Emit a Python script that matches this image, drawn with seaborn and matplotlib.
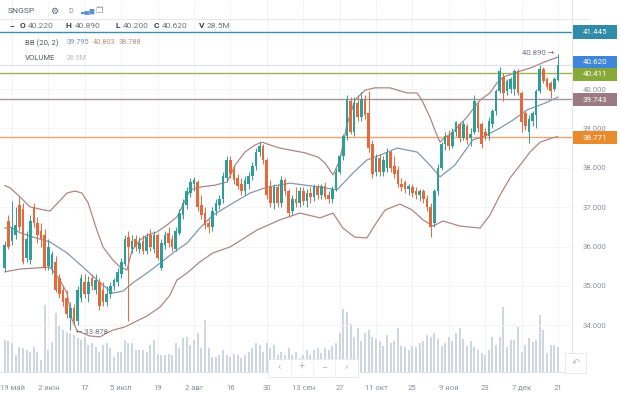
import numpy as np
import pandas as pd
import matplotlib
matplotlib.use("Agg")
import matplotlib.pyplot as plt
from matplotlib.patches import Rectangle
import seaborn as sns

# daily candles (trading day index 0..152)
opens = [35.45, 36.65, 36.15, 36.3, 37.05, 36.95, 35.7, 35.65, 37.0, 36.6,
         36.4, 36.3, 35.5, 35.45, 35.6, 35.2, 34.9, 34.7, 34.2, 34.45,
         34.1, 34.7, 35.1, 34.8, 35.2, 34.9, 35.1, 34.9, 34.6, 34.8,
         35.0, 35.1, 35.3, 35.55, 36.25, 35.95, 36.2, 35.95, 36.15, 35.9,
         36.3, 35.95, 36.3, 35.45, 36.05, 36.35, 36.2, 35.95, 36.35, 36.8,
         37.05, 37.35, 37.6, 37.65, 37.05, 36.85, 36.6, 36.5, 36.9, 37.05,
         37.2, 37.75, 38.2, 37.95, 37.75, 37.6, 37.4, 37.6, 37.8, 38.05,
         38.4, 38.55, 38.2, 37.5, 37.1, 37.5, 37.1, 37.7, 37.4, 36.9,
         37.2, 37.1, 37.4, 37.15, 37.35, 37.25, 37.5, 37.3, 37.55, 37.3,
         37.2, 37.45, 37.9, 38.3, 38.8, 39.7, 38.9, 39.65, 39.3, 39.75,
         39.4, 38.6, 37.9, 38.25, 37.9, 38.0, 38.4, 38.05, 37.95, 37.6,
         37.65, 37.45, 37.5, 37.4, 37.3, 37.4, 37.2, 37.0, 36.6, 37.4,
         38.0, 38.6, 38.8, 38.55, 38.9, 39.1, 38.75, 39.05, 38.75, 38.9,
         39.6, 39.1, 38.9, 38.8, 39.1, 39.45, 39.95, 40.3, 39.95, 40.0,
         40.0, 40.45, 39.9, 39.4, 38.9, 39.2, 39.35, 39.95, 40.5, 40.25,
         40.15, 40.0, 40.22]
highs = [36.15, 36.8, 37.15, 37.0, 37.25, 37.1, 36.4, 36.8, 37.1, 36.75,
         36.6, 36.45, 36.2, 35.9, 35.75, 35.3, 35.0, 34.9, 34.6, 34.55,
         35.0, 35.3, 35.3, 35.25, 35.3, 35.3, 35.2, 35.1, 35.0, 35.1,
         35.2, 35.45, 35.7, 36.3, 36.4, 36.3, 36.3, 36.25, 36.3, 36.35,
         36.45, 36.4, 36.35, 36.2, 36.4, 36.5, 36.3, 36.5, 36.95, 37.2,
         37.5, 37.75, 37.77, 37.7, 37.3, 37.0, 36.7, 37.0, 37.2, 37.3,
         37.9, 38.3, 38.3, 38.05, 37.85, 37.75, 37.8, 37.9, 38.15, 38.5,
         38.65, 38.6, 38.25, 37.7, 37.6, 37.6, 37.8, 37.75, 37.45, 37.3,
         37.5, 37.5, 37.5, 37.45, 37.5, 37.6, 37.6, 37.6, 37.65, 37.4,
         37.55, 38.0, 38.35, 38.85, 39.85, 39.8, 39.8, 39.85, 39.92, 39.85,
         39.95, 38.7, 38.35, 38.35, 38.3, 38.5, 38.45, 38.3, 38.05, 37.75,
         37.7, 37.6, 37.6, 37.5, 37.45, 37.45, 37.3, 37.1, 37.45, 38.1,
         38.65, 38.9, 38.95, 39.0, 39.2, 39.15, 39.2, 39.1, 39.0, 39.85,
         39.7, 39.15, 39.0, 39.3, 39.5, 40.0, 40.55, 40.4, 40.25, 40.3,
         40.5, 40.5, 39.95, 39.45, 39.35, 39.45, 40.0, 40.6, 40.55, 40.3,
         40.2, 40.3, 40.89]
lows = [35.35, 35.95, 36.05, 36.2, 36.4, 35.55, 35.6, 35.55, 36.5, 36.1,
        36.0, 35.4, 35.4, 35.3, 34.85, 34.7, 34.5, 34.2, 33.878, 34.0,
        34.0, 34.6, 34.7, 34.6, 34.9, 34.8, 34.4, 34.5, 34.5, 34.7,
        34.9, 35.0, 35.2, 35.5, 34.1, 35.85, 35.9, 35.85, 35.8, 35.8,
        35.9, 35.85, 35.65, 35.4, 35.95, 36.0, 35.9, 35.9, 36.3, 36.7,
        36.95, 37.25, 37.4, 36.9, 36.7, 36.45, 36.35, 36.4, 36.8, 36.95,
        37.1, 37.65, 37.75, 37.6, 37.45, 37.3, 37.3, 37.45, 37.7, 37.95,
        38.3, 38.1, 37.2, 37.0, 36.95, 37.0, 37.0, 37.3, 36.75, 36.8,
        37.0, 37.0, 37.05, 37.0, 37.1, 37.15, 37.2, 37.2, 37.2, 37.1,
        37.1, 37.4, 37.85, 38.2, 38.7, 38.85, 38.8, 39.2, 39.2, 39.25,
        38.4, 37.75, 37.8, 37.8, 37.8, 37.9, 37.9, 37.75, 37.5, 37.4,
        37.35, 37.3, 37.25, 37.2, 37.15, 37.1, 36.9, 36.25, 36.5, 37.3,
        37.95, 38.45, 38.45, 38.5, 38.8, 38.65, 38.7, 38.6, 38.55, 38.85,
        38.9, 38.5, 38.7, 38.7, 39.0, 39.35, 39.9, 39.7, 39.85, 39.9,
        39.85, 39.85, 38.9, 38.95, 38.63, 39.05, 39.0, 39.9, 40.15, 40.0,
        39.77, 39.95, 40.2]
closes = [36.05, 36.0, 36.5, 36.55, 36.5, 35.6, 36.2, 36.65, 36.6, 36.3,
          36.2, 35.45, 36.0, 35.8, 34.9, 34.8, 34.6, 34.3, 34.45, 34.1,
          34.9, 35.2, 34.8, 35.1, 35.0, 35.15, 34.5, 34.6, 34.8, 35.0,
          35.15, 35.35, 35.6, 36.2, 36.0, 36.15, 36.0, 36.1, 35.9, 36.25,
          36.0, 36.3, 35.7, 36.1, 36.3, 36.1, 36.0, 36.4, 36.85, 37.1,
          37.4, 37.65, 37.7, 37.0, 36.8, 36.55, 36.5, 36.9, 37.1, 37.2,
          37.8, 38.2, 37.85, 37.7, 37.55, 37.4, 37.7, 37.8, 38.05, 38.4,
          38.55, 38.2, 37.3, 37.1, 37.5, 37.1, 37.7, 37.4, 36.85, 37.2,
          37.1, 37.4, 37.15, 37.35, 37.25, 37.5, 37.3, 37.55, 37.25, 37.2,
          37.45, 37.9, 38.3, 38.8, 39.75, 38.9, 39.65, 39.3, 39.75, 39.35,
          38.5, 37.85, 38.25, 37.9, 38.2, 38.4, 38.0, 37.85, 37.6, 37.5,
          37.45, 37.55, 37.35, 37.3, 37.4, 37.2, 37.0, 36.5, 37.4, 38.0,
          38.6, 38.8, 38.55, 38.9, 39.15, 38.75, 39.1, 38.7, 38.85, 39.7,
          39.0, 38.6, 38.8, 39.2, 39.45, 39.95, 40.45, 39.9, 40.2, 40.25,
          40.45, 39.9, 39.15, 39.05, 39.25, 39.4, 39.95, 40.5, 40.2, 40.05,
          39.95, 40.25, 40.62]
volumes = [36, 35, 33, 19, 28, 27, 25, 23, 28, 23,
           14, 76, 25, 34, 67, 54, 48, 46, 44, 42,
           39, 36, 40, 31, 33, 28, 23, 31, 33, 27,
           17, 23, 23, 36, 33, 33, 25, 25, 25, 23,
           31, 36, 21, 19, 19, 21, 19, 33, 27, 39,
           40, 31, 36, 44, 27, 59, 27, 17, 17, 19,
           25, 19, 17, 21, 19, 16, 19, 23, 27, 33,
           31, 23, 33, 27, 31, 19, 23, 19, 27, 19,
           23, 16, 19, 25, 19, 25, 27, 22, 27, 25,
           30, 33, 45, 72, 68, 55, 40, 50, 35, 45,
           48, 40, 38, 35, 30, 42, 33, 35, 50, 30,
           28, 25, 30, 28, 33, 35, 42, 40, 45, 38,
           30, 33, 40, 35, 45, 50, 38, 30, 35, 28,
           25, 22, 19, 25, 40, 31, 40, 74, 28, 36,
           36, 51, 23, 31, 39, 34, 36, 65, 48, 22,
           31, 31, 28.5]

# Bollinger band (20, 2) at sample days
upper_day = [0, 1.5, 4.2, 6.9, 9.7, 12.4, 14.6, 17.1, 19.3, 21.2, 22.9, 25.3, 27, 29.7,
             31.7, 33.6, 35, 37.2, 39.1, 41.8, 44.6, 47.3, 49, 50.9, 53.6, 57.8, 61.1,
             63.3, 66, 68.8, 70.7, 72.9, 75.6, 78.4, 82.5, 86.1, 88, 90.2, 92.1, 94,
             96.2, 99, 101.7, 105.8, 110.5, 113.3, 114.6, 116.8, 118.5, 119.6, 121,
             122.9, 127, 130.6, 133.3, 135.2, 136.9, 140.7, 144.3, 148.4, 152]
upper_val = [37.55, 37.49, 37.26, 37.01, 36.95, 36.9, 37.11, 37.36, 37.41, 37.36, 37.11,
             36.42, 35.99, 35.66, 35.48, 35.41, 35.91, 36.17, 36.29, 36.37, 36.55, 36.75,
             37.06, 37.44, 37.51, 37.56, 37.64, 38.07, 38.4, 38.58, 38.65, 38.58, 38.5,
             38.45, 38.38, 38.27, 38.12, 37.82, 38.2, 39.09, 39.72, 39.97, 40.03, 40.03,
             39.9, 39.9, 39.72, 39.29, 38.88, 38.65, 38.78, 38.88, 39.29, 39.72, 39.9,
             40.15, 40.3, 40.43, 40.53, 40.69, 40.81]
middle_day = [0, 1.5, 4.2, 7.8, 12.4, 17.1, 21.5, 26.2, 29.7, 32.5, 35.2, 39.1, 42.7,
              46.2, 50.1, 53.6, 57.2, 61.9, 67.4, 72.1, 78.4, 86.6, 91.3, 95.7, 99.5,
              103.1, 107.8, 113.3, 116.8, 119.6, 123.7, 128.6, 131.4, 136.1, 139.6,
              143.5, 148.4, 152]
middle_val = [36.47, 36.5, 36.35, 36.24, 36.12, 35.84, 35.48, 35.08, 34.82, 34.87, 35.08,
              35.33, 35.58, 35.84, 36.09, 36.47, 36.8, 37.06, 37.36, 37.51, 37.61, 37.51,
              37.44, 37.87, 38.2, 38.32, 38.5, 38.4, 38.07, 37.77, 38.07, 38.71, 38.78,
              39.01, 39.21, 39.47, 39.64, 39.795]
lower_day = [0, 4.2, 12.4, 15.2, 17.1, 18.5, 19.9, 23.4, 26.2, 28.1, 29.7, 33, 35.2,
             39.1, 42.7, 45.4, 47.3, 50.1, 53.6, 57.2, 61.9, 69.3, 75.6, 81.1, 86.6,
             90.2, 92.9, 96.2, 99.5, 101.7, 104.5, 108.6, 111.9, 114.9, 117.7, 120.4,
             125.1, 130.6, 133.3, 136.1, 138.8, 141.6, 144.3, 147.1, 150.4, 152]
lower_val = [35.36, 35.43, 35.48, 35.15, 34.82, 34.14, 33.86, 33.73, 33.71, 33.81, 33.88,
             33.96, 34.06, 34.24, 34.47, 34.77, 35.15, 35.33, 35.61, 35.84, 35.99, 36.42,
             36.68, 36.85, 36.73, 36.85, 36.47, 36.24, 36.22, 36.55, 36.93, 37.08, 36.93,
             36.68, 36.52, 36.65, 36.52, 36.47, 36.8, 37.31, 37.74, 38.07, 38.4, 38.65,
             38.76, 38.788]

date_labels = ["19 май", "2 июн", "17", "5 июл", "19", "2 авг", "16", "30",
               "13 сен", "27", "11 окт", "25", "9 ноя", "23", "7 дек", "21"]
price_ticks = [34, 35, 36, 37, 38, 39, 40]

levels = [41.445, 40.411, 39.743, 38.771]
level_line_colors = ["#3b8fa9", "#9db450", "#a8949a", "#eca66e"]
level_box_colors = ["#2f8ba6", "#86a93a", "#9b7b83", "#e98a2c"]
last_price = 40.62

UP = "#2d9f9a"
DOWN = "#e8683c"
GREY_TXT = "#8a9099"

sns.set_theme(style="white")
plt.rcParams["font.family"] = ["Roboto", "DejaVu Sans"]

df = pd.DataFrame({"day": np.arange(len(closes)), "open": opens, "high": highs,
                   "low": lows, "close": closes, "volume": volumes})
df["color"] = np.where(df["close"] >= df["open"], UP, DOWN)

W, H = 620, 399
fig = plt.figure(figsize=(W / 100, H / 100), dpi=100)
fig.patch.set_facecolor("white")


def fx(px):
    return px / W


def fy(py):
    return 1 - py / H


# volume axes below, price axes on top
axv = fig.add_axes([0, fy(372), fx(572), 372 / H])
sns.barplot(data=df, x="day", y="volume", native_scale=True, color="#cfd6df",
            width=0.55, saturation=1, errorbar=None, ax=axv, linewidth=0)
axv.set_ylim(0, 424)
axv.set_xlim(-1.3, 155.85)
axv.set_yticks([])
axv.set_xlabel("")
axv.set_ylabel("")
tick_pos = [2 + 10 * k for k in range(len(date_labels))]
axv.set_xticks(tick_pos, date_labels)
axv.tick_params(axis="x", length=0, pad=9, labelsize=5.6, labelcolor=GREY_TXT)
for x in tick_pos:
    axv.axvline(x, color="#f1f2f5", lw=0.6, zorder=0)
for s in ["top", "left", "right"]:
    axv.spines[s].set_visible(False)
axv.spines["bottom"].set_color("#e3e6ea")
axv.spines["bottom"].set_linewidth(0.8)

ax = axv.twinx()
ax.patch.set_visible(False)
ax.set_ylim(32.817, 42.259)
ax.set_xlim(-1.3, 155.85)
ax.set_yticks(price_ticks, [f"{t:.3f}" for t in price_ticks])
ax.tick_params(axis="y", length=0, pad=8, labelsize=5.6, labelcolor=GREY_TXT)
for t in price_ticks:
    ax.axhline(t, color="#f1f2f5", lw=0.6, zorder=0)
for s in ["top", "left", "bottom"]:
    ax.spines[s].set_visible(False)
ax.spines["right"].set_color("#e3e6ea")
ax.spines["right"].set_linewidth(0.8)

# horizontal levels
ax.axhline(last_price, color="#d3deeb", lw=0.6, zorder=1)
for lv, c in zip(levels, level_line_colors):
    ax.axhline(lv, color=c, lw=1.0, zorder=1)

# bollinger bands
sns.lineplot(x=upper_day, y=upper_val, color="#ad8787", lw=0.9, ax=ax, zorder=2)
sns.lineplot(x=middle_day, y=middle_val, color="#8597ad", lw=0.9, ax=ax, zorder=2)
sns.lineplot(x=lower_day, y=lower_val, color="#ad8787", lw=0.9, ax=ax, zorder=2)

# candles
ax.vlines(df["day"], df["low"], df["high"], colors=df["color"], lw=0.7, zorder=3)
body_lo = df[["open", "close"]].min(axis=1)
body_h = (df["close"] - df["open"]).abs().clip(lower=0.03)
ax.bar(df["day"], body_h, bottom=body_lo, width=0.72, color=df["color"], zorder=4, linewidth=0)
ax.set_xlabel("")
ax.set_ylabel("")

# extreme annotations
fig.text(fx(522), fy(53), "40.890 →", fontsize=5.6, color="#6d737c", va="center")
fig.text(fx(76), fy(332), "← 33.878", fontsize=5.6, color="#6d737c", va="center")


# price label boxes on the right
def price_box(py, text, color):
    fig.patches.append(Rectangle((fx(573), fy(py + 6.5)), fx(44), 13 / H, transform=fig.transFigure,
                                 facecolor=color, edgecolor="none", zorder=5))
    fig.text(fx(595), fy(py), text, fontsize=5.8, color="white", ha="center", va="center", zorder=6)


price_box(32, "41.445", level_box_colors[0])
price_box(62, "40.620", "#3f86d8")
price_box(74, "40.411", level_box_colors[1])
price_box(99.5, "39.743", level_box_colors[2])
price_box(137.5, "38.771", level_box_colors[3])

# header
fig.add_artist(plt.Line2D([0, fx(588)], [fy(19), fy(19)], color="#e4e7eb", lw=0.7))
fig.text(fx(8), fy(11), "SNGSP", fontsize=6, color="#555b63", va="center")
fig.text(fx(50), fy(11), "⚙", fontsize=6.5, color="#555b63", va="center")
fig.text(fx(68), fy(11.5), "D", fontsize=5, color="#8a9099", va="center")
fig.text(fx(80), fy(11), "▃▅▇", fontsize=4.5, color="#5b8fd6", va="center")
fig.text(fx(95), fy(11), "❐", fontsize=6, color="#8a9099", va="center")

row2 = [(9, "−", True), (20, "O", True), (28, "40.220", False), (66, "H", True),
        (75, "40.890", False), (115, "L", True), (123, "40.200", False),
        (154, "C", True), (162, "40.620", False), (199, "V", True), (207, "28.5M", False)]
for px, t, bold in row2:
    fig.text(fx(px), fy(26), t, fontsize=6, color="#3c4148" if bold else "#6d737c",
             fontweight="bold" if bold else "normal", va="center")

fig.text(fx(25), fy(43), "BB (20, 2)", fontsize=5.6, color="#555b63", va="center")
fig.text(fx(67), fy(43), "39.795", fontsize=5.3, color="#6f8fc4", va="center")
fig.text(fx(93), fy(43), "40.803", fontsize=5.3, color="#c98a7a", va="center")
fig.text(fx(119), fy(43), "38.788", fontsize=5.3, color="#b39186", va="center")
fig.text(fx(25), fy(58), "VOLUME", fontsize=5.6, color="#555b63", va="center")
fig.text(fx(66), fy(58), "28.5M", fontsize=5.3, color="#b9bec6", va="center")

# navigation buttons
fig.patches.append(Rectangle((fx(268), fy(377)), fx(90), 18 / H, transform=fig.transFigure,
                             facecolor="white", edgecolor="#e6e8ec", lw=0.6, zorder=5))
for px, t in [(279, "‹"), (302, "+"), (324, "−"), (346, "›")]:
    fig.text(fx(px), fy(367), t, fontsize=8, color="#b5bac2", ha="center", va="center", zorder=6)
for px in [291, 313, 335]:
    fig.add_artist(plt.Line2D([fx(px), fx(px)], [fy(376), fy(360)], color="#eceef1", lw=0.6, zorder=6))
fig.patches.append(Rectangle((fx(565), fy(373)), fx(21), 20 / H, transform=fig.transFigure,
                             facecolor="white", edgecolor="#e3e6ea", lw=0.6, zorder=5))
fig.text(fx(575.5), fy(363), "↶", fontsize=7, color="#b5bac2", ha="center", va="center", zorder=6)

fig.savefig("out.png", dpi=100)
